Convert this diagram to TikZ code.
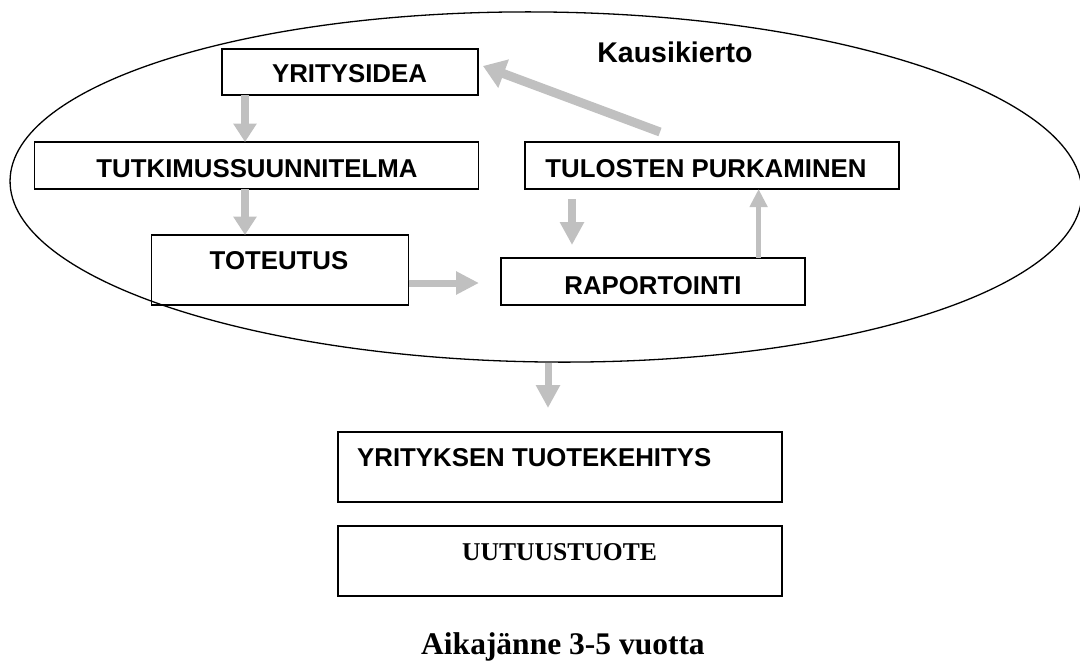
\documentclass[tikz,border=0pt]{standalone}
\usepackage{fontspec}
\setmainfont{Liberation Serif}
\setsansfont{Liberation Sans}
\usetikzlibrary{arrows.meta,shapes.geometric}
\definecolor{arrowgray}{RGB}{192,192,192}
\tikzset{
  stepbox/.style={draw=black, line width=1.4pt, rectangle, inner sep=0pt, outer sep=0pt},
  lbl/.style={font=\sffamily\bfseries\fontsize{25.8}{29}\selectfont, inner sep=0pt, anchor=base},
  garrow/.style={draw=arrowgray, line width=8pt, -{Triangle[width=22.5pt,length=18.5pt]}},
}
\begin{document}
\begin{tikzpicture}[x=1pt,y=-1pt]
\useasboundingbox (0,0) rectangle (1080,662);

% seasonal cycle
\node[draw=black, line width=1.3pt, ellipse, inner sep=0pt, minimum width=1072pt, minimum height=350pt, rotate=-0.7] (cycle) at (546,187) {};
\node[font=\sffamily\bfseries\fontsize{28.5}{32}\selectfont, inner sep=0pt, anchor=base] (season) at (675,62.5) {Kausikierto};

% process boxes
\node[stepbox, minimum width=256pt, minimum height=46pt] (idea) at (350,72) {};
\node[stepbox, minimum width=444pt, minimum height=47pt] (plan) at (256.5,165.5) {};
\node[stepbox, minimum width=257pt, minimum height=70pt] (tot) at (280,270) {};
\node[stepbox, minimum width=374pt, minimum height=47pt] (tul) at (712,165.5) {};
\node[stepbox, minimum width=304pt, minimum height=47pt] (rap) at (653,281.5) {};
\node[stepbox, minimum width=444pt, minimum height=70pt] (dev) at (560,467) {};
\node[stepbox, minimum width=444pt, minimum height=70pt] (prod) at (560,561) {};

% box labels
\node[lbl] (ideatxt) at (349.5,82.5) {YRITYSIDEA};
\node[lbl] (plantxt) at (257,177.3) {TUTKIMUSSUUNNITELMA};
\node[lbl] (tottxt) at (279,269.3) {TOTEUTUS};
\node[lbl] (tultxt) at (706,177.3) {TULOSTEN PURKAMINEN};
\node[lbl] (raptxt) at (653,294.3) {RAPORTOINTI};
\node[lbl, anchor=base west] (devtxt) at (357,466.7) {YRITYKSEN TUOTEKEHITYS};
\node[font=\rmfamily\bfseries\fontsize{25.6}{28}\selectfont, inner sep=0pt, anchor=base] (prodtxt) at (559.5,560) {UUTUUSTUOTE};
\node[font=\rmfamily\bfseries\fontsize{31.5}{34}\selectfont, inner sep=0pt, anchor=base] (span) at (563,654.5) {Aikajänne 3-5 vuotta};

% flow arrows
\coordinate (dropx) at ([xshift=-12pt]dev.north);
\draw[garrow] ([xshift=-105pt]idea.south) -- ([xshift=-11.5pt]plan.north);
\draw[garrow] ([xshift=-11.5pt]plan.south) -- ([xshift=-35pt]tot.north);
\draw[garrow, line width=7pt, -{Triangle[width=22pt,length=23pt]}, shorten >=22pt] ([yshift=-13pt]tot.east) -- ([yshift=-1.5pt]rap.west);
\draw[garrow, line width=8.5pt, -{Triangle[width=23pt,length=23pt]}] ([xshift=-140pt,yshift=-10pt]tul.south) -- ([xshift=-81pt,yshift=13pt]rap.north);
\draw[garrow, line width=5.5pt, -{Triangle[width=17pt,length=18pt]}] ([xshift=105.6pt]rap.north) -- ([xshift=46.6pt]tul.south);
\draw[garrow, line width=9pt, -{Triangle[width=29pt,length=22pt]}] ([xshift=-52pt,yshift=10pt]tul.north) -- ([xshift=5pt,yshift=6pt]idea.east);
\draw[garrow, line width=7pt, -{Triangle[width=23pt,length=23pt]}] (dropx |- cycle.south) -- ([yshift=24pt]dropx);
\end{tikzpicture}
\end{document}
